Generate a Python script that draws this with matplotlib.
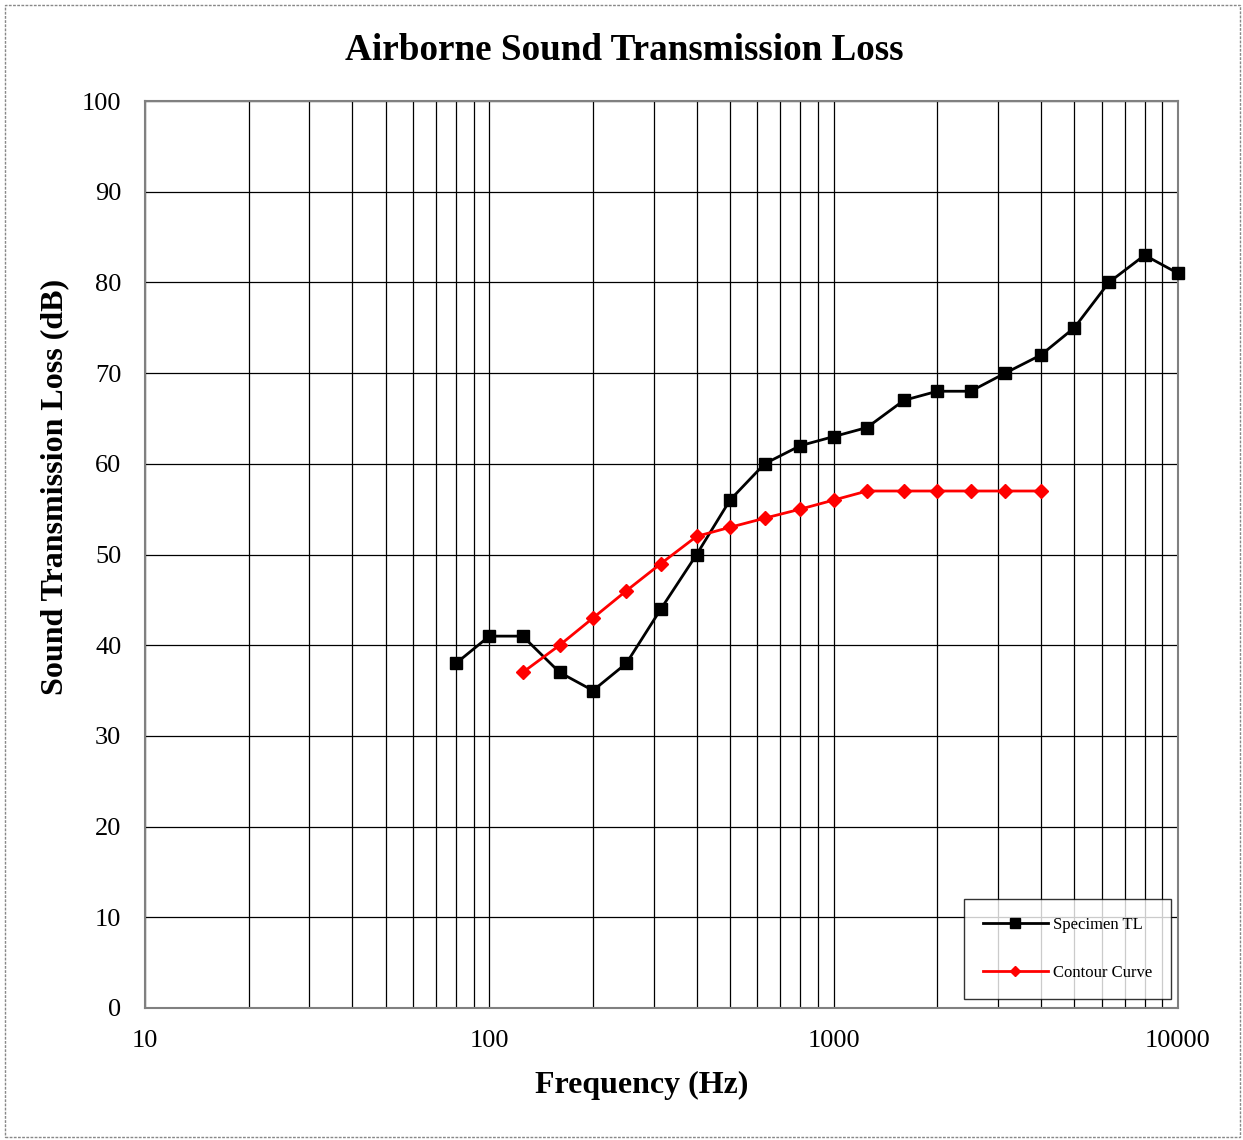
import matplotlib
matplotlib.use("Agg")
import matplotlib.pyplot as plt
from matplotlib.patches import Rectangle
from matplotlib.ticker import FixedLocator, NullFormatter

spec_freq = [80, 100, 125, 160, 200, 250, 315, 400, 500, 630, 800, 1000, 1250,
             1600, 2000, 2500, 3150, 4000, 5000, 6300, 8000, 10000]
spec_tl = [38, 41, 41, 37, 35, 38, 44, 50, 56, 60, 62, 63, 64, 67, 68, 68, 70,
           72, 75, 80, 83, 81]
cont_freq = [125, 160, 200, 250, 315, 400, 500, 630, 800, 1000, 1250, 1600,
             2000, 2500, 3150, 4000]
cont_tl = [37, 40, 43, 46, 49, 52, 53, 54, 55, 56, 57, 57, 57, 57, 57, 57]

plt.rcParams['font.family'] = ['Liberation Serif', 'DejaVu Serif']

W, H = 1243, 1140
fig = plt.figure(figsize=(W/100, H/100), dpi=100)
ax = fig.add_axes([145/W, 1 - 1008/H, (1178-145)/W, (1008-101)/H])

ax.set_xscale('log')
ax.set_xlim(10, 10000)
ax.set_ylim(0, 100)
ax.set_yticks(range(0, 101, 10))
ax.xaxis.set_major_locator(FixedLocator([10, 100, 1000, 10000]))
ax.set_xticklabels(['10', '100', '1000', '10000'])
minors = [m * d for d in (10, 100, 1000) for m in range(2, 10)]
ax.xaxis.set_minor_locator(FixedLocator(minors))
ax.xaxis.set_minor_formatter(NullFormatter())
ax.grid(True, which='major', axis='both', color='black', linewidth=0.9)
ax.grid(True, which='minor', axis='x', color='black', linewidth=0.9)
ax.tick_params(axis='both', which='both', length=0, labelsize=19)
ax.tick_params(axis='y', pad=17)
ax.tick_params(axis='x', pad=16)
for s in ax.spines.values():
    s.set_color('#808080')
    s.set_linewidth(1.5)

ax.plot(spec_freq, spec_tl, color='black', marker='s', markersize=9,
        linewidth=2, label='Specimen TL', clip_on=False, zorder=3)
ax.plot(cont_freq, cont_tl, color='red', marker='D', markersize=7,
        linewidth=2, label='Contour Curve', clip_on=False, zorder=3)

leg = ax.legend(loc='lower right', bbox_to_anchor=(1-7/1033, 9/907), fontsize=12,
                frameon=True, fancybox=False, edgecolor='black', borderpad=1.1,
                labelspacing=1.9, handlelength=3.9, handletextpad=0.35,
                borderaxespad=0, markerscale=0.8)
leg.get_frame().set_linewidth(1.0)

fig.text(624/W, 1 - 50/H, 'Airborne Sound Transmission Loss', fontsize=26.7,
         fontweight='bold', ha='center', va='center')
fig.text(642/W, 1 - 1085/H, 'Frequency (Hz)', fontsize=23,
         fontweight='bold', ha='center', va='center')
fig.text(55/W, 1 - 487/H, 'Sound Transmission Loss (dB)', fontsize=23,
         fontweight='bold', ha='center', va='center', rotation=90)

fig.patches.append(Rectangle((5/W, 3/H), 1235/W, 1132/H, transform=fig.transFigure,
                             fill=False, edgecolor='#888888', linestyle=(0, (2, 1)),
                             linewidth=1.0))

fig.savefig('out.png', dpi=100)
